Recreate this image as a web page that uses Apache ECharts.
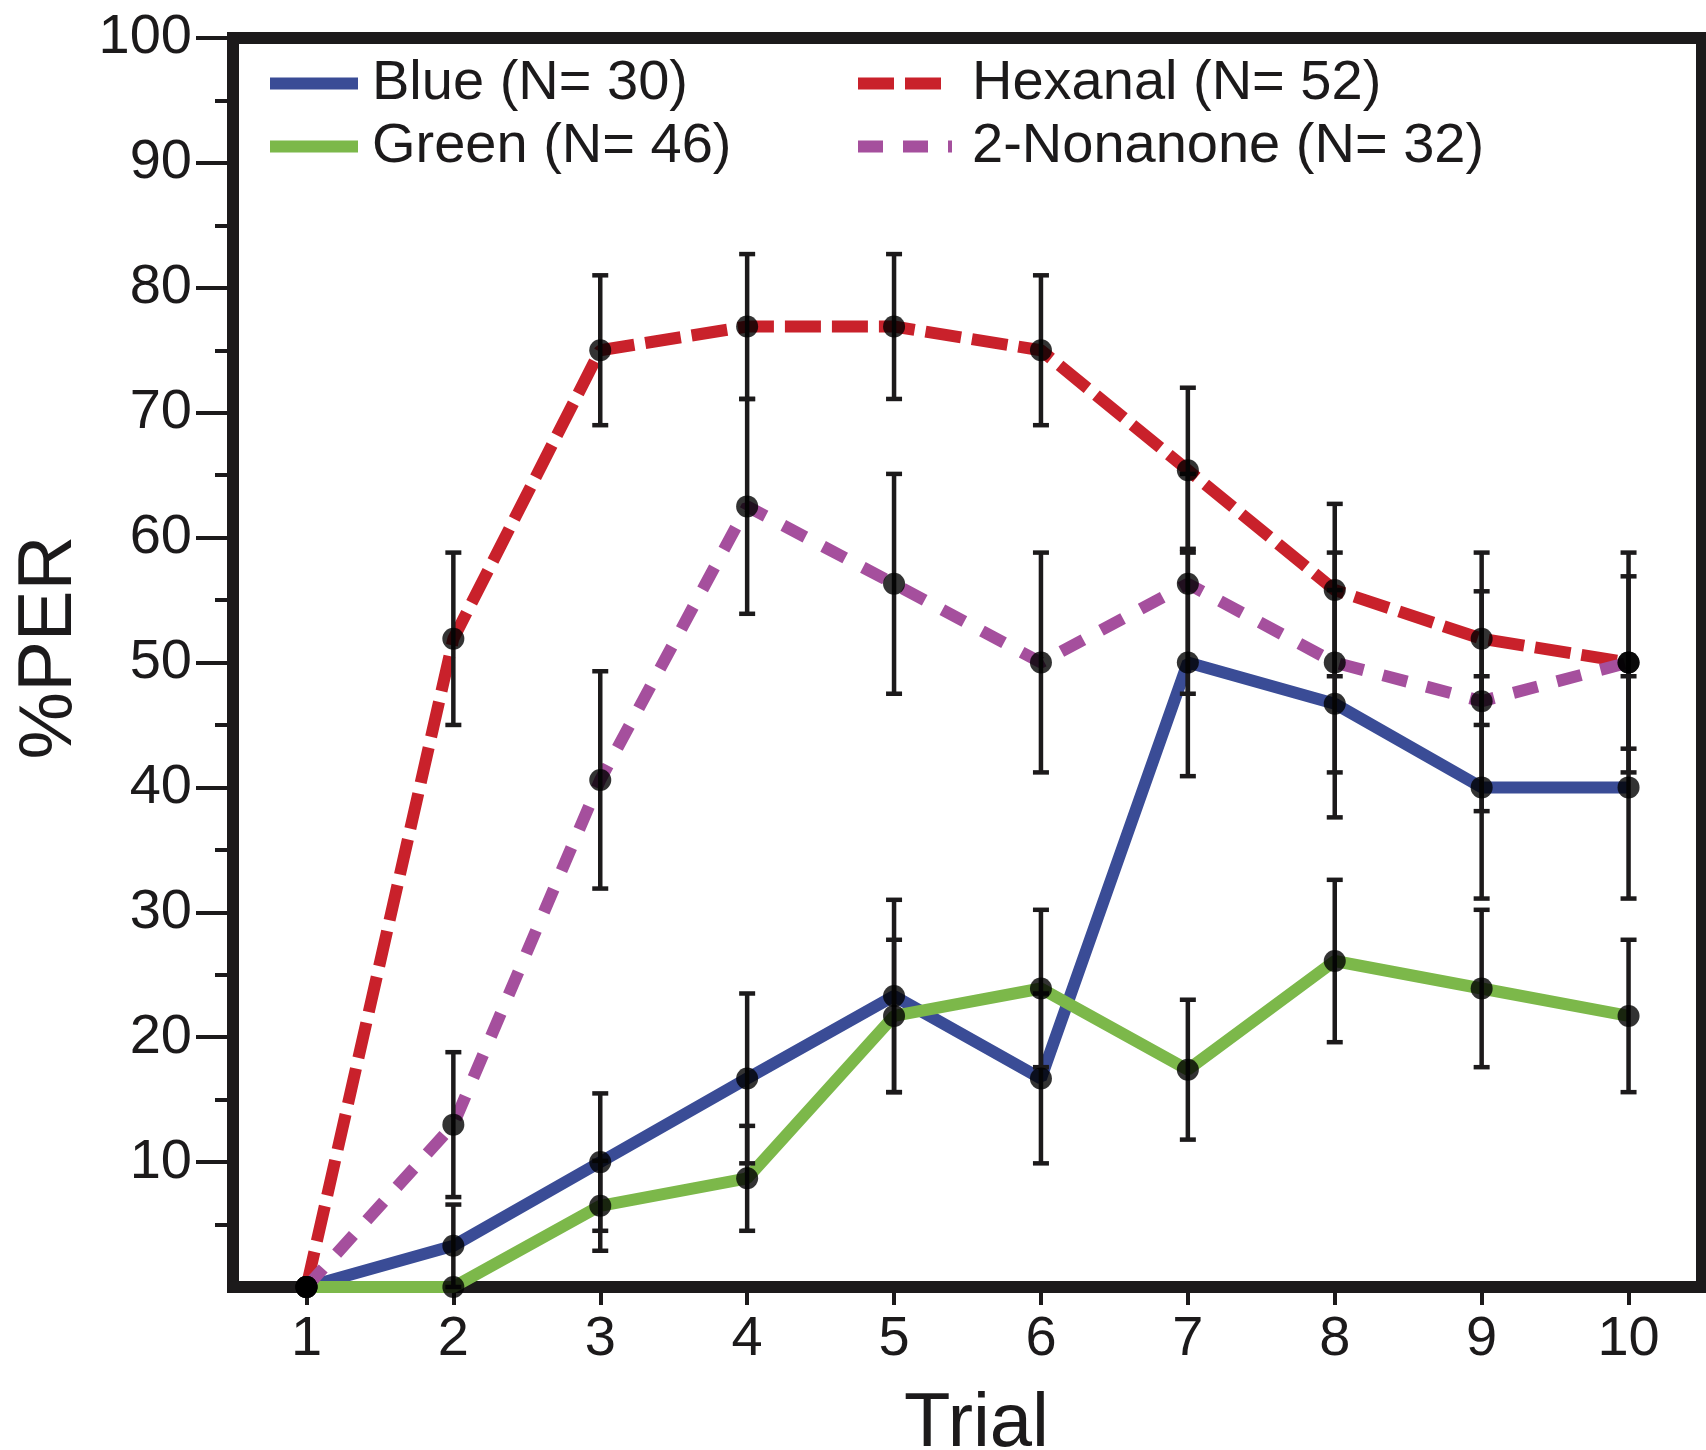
<!DOCTYPE html>
<html>
<head>
<meta charset="utf-8">
<script src="https://cdn.jsdelivr.net/npm/echarts@6/dist/echarts.min.js"></script>
<style>
  html, body { margin: 0; padding: 0; background: #fff; }
  #chart { width: 1706px; height: 1450px; }
</style>
</head>
<body>
<div id="chart"></div>
<script>
// trials on the x axis
const trials = ["1", "2", "3", "4", "5", "6", "7", "8", "9", "10"];

// %PER per trial
const blue = [0, 3.3, 10, 16.7, 23.3, 16.7, 50, 46.7, 40, 40];
const green = [0, 0, 6.5, 8.7, 21.7, 23.9, 17.4, 26.1, 23.9, 21.7];
const hexanal = [0, 51.9, 75, 76.9, 76.9, 75, 65.4, 55.8, 51.9, 50];
const nonanone = [0, 13, 40.6, 62.5, 56.3, 50, 56.3, 50, 46.9, 50];

// error bar half-lengths (+/-)
const blueErr = [0, 3.3, 5.5, 6.8, 7.7, 6.8, 9.1, 9.1, 8.9, 8.9];
const greenErr = [0, 0, 3.6, 4.2, 6.1, 6.3, 5.6, 6.5, 6.3, 6.1];
const hexanalErr = [0, 6.9, 6.0, 5.8, 5.8, 6.0, 6.6, 6.9, 6.9, 6.9];
const nonanoneErr = [0, 5.8, 8.7, 8.6, 8.8, 8.8, 8.8, 8.8, 8.8, 8.8];

// labelled y ticks (0 has neither label nor tick)
const yTicks = [10, 20, 30, 40, 50, 60, 70, 80, 90, 100];

const FONT = "'Liberation Sans', Arial, Helvetica, sans-serif";
const INK = "#1c1a1b";

const groups = [
  { name: "Blue (N= 30)", vals: blue, err: blueErr, color: "#3a4c96", dash: "solid" },
  { name: "Green (N= 46)", vals: green, err: greenErr, color: "#7cb84a", dash: "solid" },
  { name: "Hexanal (N= 52)", vals: hexanal, err: hexanalErr, color: "#c9212b", dash: [36, 11] },
  { name: "2-Nonanone (N= 32)", vals: nonanone, err: nonanoneErr, color: "#a54f9d", dash: [25, 20] }
];

function renderErrorBar(params, api) {
  const x = api.value(0);
  const y = api.value(1);
  const e = api.value(2);
  const hi = api.coord([x, y + e]);
  const lo = api.coord([x, y - e]);
  const half = 8;
  const style = { stroke: INK, lineWidth: 4.5 };
  return {
    type: "group",
    children: [
      { type: "line", shape: { x1: hi[0], y1: hi[1], x2: lo[0], y2: lo[1] }, style: style },
      { type: "line", shape: { x1: hi[0] - half, y1: hi[1], x2: hi[0] + half, y2: hi[1] }, style: style },
      { type: "line", shape: { x1: lo[0] - half, y1: lo[1], x2: lo[0] + half, y2: lo[1] }, style: style }
    ]
  };
}

const errData = [];
const dotData = [];
groups.forEach(g => {
  g.vals.forEach((v, i) => {
    if (g.err[i] > 0) errData.push([i, v, g.err[i]]);
    dotData.push([i, v]);
  });
});

const legendText = (padLeft) => ({
  color: INK,
  fontFamily: FONT,
  fontSize: 56,
  lineHeight: 63,
  padding: [0, 0, 0, padLeft]
});

const legendBase = {
  orient: "vertical",
  top: 52,
  padding: 0,
  itemHeight: 12,
  itemGap: 0,
  itemStyle: { opacity: 0 },
  lineStyle: { width: 12 }
};

const option = {
  backgroundColor: "#fff",
  animation: false,
  grid: {
    left: 233,
    right: 4,
    top: 38,
    bottom: 163,
    outerBoundsMode: "none",
    show: true,
    borderColor: INK,
    borderWidth: 12
  },
  legend: [
    Object.assign({}, legendBase, {
      data: [groups[0].name, groups[1].name],
      left: 264,
      itemWidth: 88,
      textStyle: legendText(9)
    }),
    Object.assign({}, legendBase, {
      data: [groups[2].name, groups[3].name],
      left: 852,
      itemWidth: 94,
      textStyle: legendText(15)
    })
  ],
  xAxis: {
    type: "category",
    data: trials,
    boundaryGap: true,
    name: "Trial",
    nameLocation: "middle",
    nameGap: 100,
    nameTextStyle: { color: INK, fontFamily: FONT, fontSize: 76, padding: [0, 0, 0, 18] },
    axisLine: { show: true, lineStyle: { color: INK, width: 12 } },
    axisTick: { show: true, alignWithLabel: true, length: 18, lineStyle: { color: INK, width: 4 } },
    axisLabel: { color: INK, fontFamily: FONT, fontSize: 56, margin: 25 },
    splitLine: { show: false }
  },
  yAxis: {
    type: "value",
    min: 0,
    max: 100,
    interval: 10,
    name: "%PER",
    nameLocation: "middle",
    nameGap: 145,
    nameTextStyle: { color: INK, fontFamily: FONT, fontSize: 76, padding: [0, 0, 0, 30] },
    axisLine: { show: true, lineStyle: { color: INK, width: 12 } },
    axisTick: { show: true, customValues: yTicks, length: 37, lineStyle: { color: INK, width: 4 } },
    minorTick: { show: true, splitNumber: 2, length: 18, lineStyle: { color: INK, width: 4 } },
    axisLabel: {
      color: INK,
      fontFamily: FONT,
      fontSize: 56,
      margin: 41,
      customValues: yTicks
    },
    splitLine: { show: false },
    minorSplitLine: { show: false }
  },
  series: groups.map(g => ({
    type: "line",
    name: g.name,
    data: g.vals,
    color: g.color,
    showSymbol: false,
    symbol: "circle",
    clip: false,
    z: 2,
    lineStyle: { color: g.color, width: 12, type: g.dash, cap: "butt" }
  })).concat([
    {
      type: "custom",
      name: "err",
      renderItem: renderErrorBar,
      data: errData,
      encode: { x: 0, y: [1] },
      clip: false,
      z: 4
    },
    {
      type: "scatter",
      name: "dots",
      data: dotData,
      symbol: "circle",
      symbolSize: 22,
      itemStyle: { color: "#000" },
      clip: false,
      z: 5
    }
  ])
};

const chart = echarts.init(document.getElementById("chart"));
chart.setOption(option);
</script>
</body>
</html>
